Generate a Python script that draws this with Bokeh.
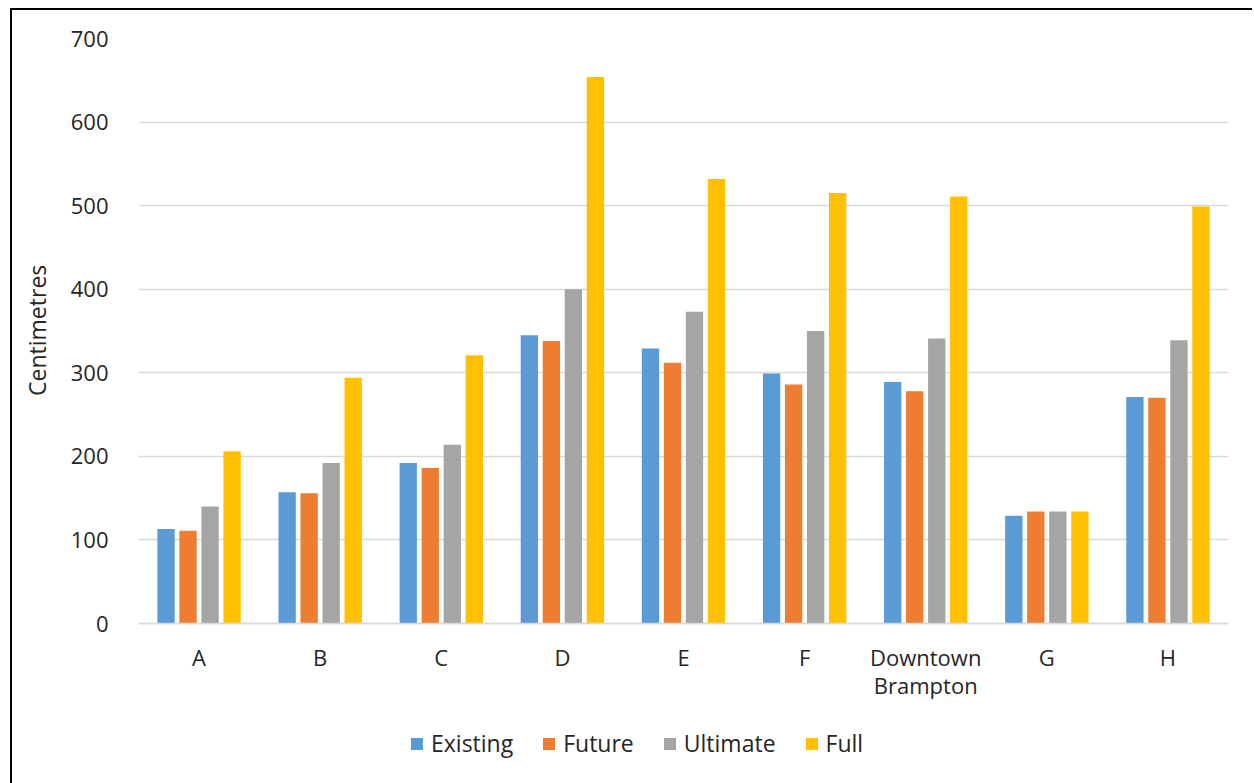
from bokeh.plotting import figure
from bokeh.models import ColumnDataSource, FactorRange, Range1d, Legend, LegendItem, FixedTicker
from bokeh.transform import dodge
from bokeh.embed import file_html
from bokeh.resources import INLINE

categories = ["A", "B", "C", "D", "E", "F", "Downtown\nBrampton", "G", "H"]
existing = [113, 157, 192, 345, 329, 299, 289, 129, 271]
future = [111, 156, 186, 338, 312, 286, 278, 134, 270]
ultimate = [140, 192, 214, 400, 373, 350, 341, 134, 339]
full = [206, 294, 321, 654, 532, 515, 511, 134, 499]
y_ticks = [0, 100, 200, 300, 400, 500, 600, 700]
series_names = ["Existing", "Future", "Ultimate", "Full"]
colors = ["#5B9BD5", "#ED7D31", "#A5A5A5", "#FFC000"]
y_title = "Centimetres"

source = ColumnDataSource(dict(cat=categories, Existing=existing, Future=future,
                               Ultimate=ultimate, Full=full))

FONT = "Open Sans"
TXT = "#262626"

# frame runs down to the page bottom so the legend (inside the frame) sits below the category labels
PX_PER_UNIT = 585 / 700
below_zero = 160 / PX_PER_UNIT

p = figure(frame_width=1090, frame_height=745, x_range=FactorRange(*categories),
           y_range=Range1d(-below_zero, 700), output_backend="svg", toolbar_location=None,
           min_border_left=126, min_border_top=28, min_border_right=24, min_border_bottom=0)
p.margin = (8, 0, 0, 10)
p.styles = {"border-top": "2px solid black", "border-left": "2px solid black"}
p.outline_line_color = None

offsets = [-0.2727, -0.0909, 0.0909, 0.2727]
items = []
for name, col, off in zip(series_names, colors, offsets):
    r = p.vbar(x=dodge("cat", off, range=p.x_range), top=name, width=0.143,
               source=source, fill_color=col, line_color=None)
    items.append(LegendItem(label=name, renderers=[r]))

p.xgrid.grid_line_color = None
p.ygrid.grid_line_color = "#D9D9D9"
p.ygrid.grid_line_width = 1.3
p.yaxis.ticker = FixedTicker(ticks=y_ticks)
p.yaxis.axis_line_color = None
p.yaxis.major_tick_line_color = None
p.yaxis.minor_tick_line_color = None
p.yaxis.major_label_standoff = 24
# leading no-break spaces lift the visible title to the centre of the 0-700 span
p.yaxis.axis_label = "\u00a0" * 27 + y_title
p.yaxis.axis_label_standoff = 15
p.yaxis.axis_label_text_font = FONT
p.yaxis.axis_label_text_font_style = "normal"
p.yaxis.axis_label_text_font_size = "23px"
p.yaxis.axis_label_text_color = TXT

p.xaxis.fixed_location = 0
p.xaxis.axis_line_color = "#D9D9D9"
p.xaxis.axis_line_width = 1.3
p.xaxis.major_tick_line_color = None
p.xaxis.minor_tick_line_color = None
p.xaxis.major_label_standoff = 12
p.xaxis.major_label_text_line_height = 0.95

for ax in (p.xaxis, p.yaxis):
    ax.major_label_text_font = FONT
    ax.major_label_text_font_size = "22px"
    ax.major_label_text_color = TXT

legend = Legend(items=items, orientation="horizontal", location=(271, 24),
                label_text_font=FONT, label_text_font_size="23px", label_text_color=TXT,
                glyph_width=15, glyph_height=15, label_standoff=7, spacing=28,
                border_line_color=None, background_fill_color=None, margin=0, padding=6)
p.add_layout(legend)

open("out.html", "w").write(file_html(p, INLINE))
